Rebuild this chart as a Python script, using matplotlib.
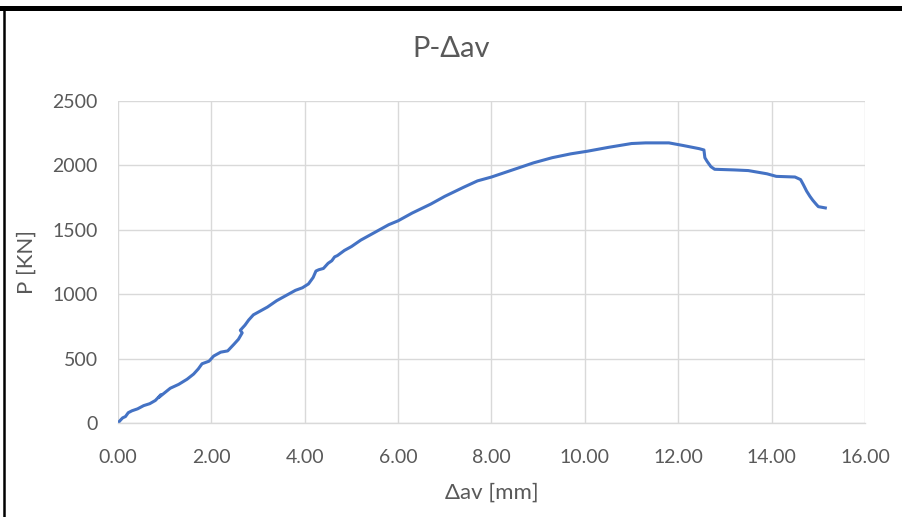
import matplotlib
matplotlib.use("Agg")
import matplotlib.pyplot as plt
from matplotlib.lines import Line2D

plt.rcParams['font.family'] = ['Lato', 'DejaVu Sans']

# displacement [mm] and load [KN]
d_av = [0.00, 0.06, 0.10, 0.16, 0.22, 0.30, 0.42, 0.55, 0.68, 0.80, 0.92, 0.88, 1.00,
        1.12, 1.30, 1.48, 1.62, 1.72, 1.80, 1.95, 2.05, 2.20, 2.35, 2.48, 2.58, 2.66,
        2.62, 2.72, 2.80, 2.90, 3.05, 3.20, 3.40, 3.60, 3.80, 3.95, 4.08, 4.18, 4.24,
        4.30, 4.40, 4.50, 4.58, 4.64, 4.70, 4.85, 5.00, 5.20, 5.40, 5.60, 5.80, 6.00,
        6.30, 6.70, 7.00, 7.40, 7.70, 8.00, 8.45, 8.90, 9.30, 9.70, 10.05, 10.50, 11.00,
        11.30, 11.80, 12.10, 12.45, 12.55, 12.57, 12.62, 12.70, 12.78, 13.20, 13.50,
        13.90, 14.10, 14.50, 14.62, 14.68, 14.75, 14.82, 14.88, 14.95, 15.00, 15.15]
p_kn = [0, 25, 40, 50, 80, 95, 110, 135, 150, 175, 220, 200, 235,
        270, 300, 340, 380, 420, 460, 480, 520, 550, 560, 610, 650, 700,
        720, 760, 800, 840, 870, 900, 950, 990, 1030, 1050, 1080, 1130, 1180,
        1190, 1200, 1240, 1260, 1290, 1300, 1340, 1370, 1420, 1460, 1500, 1540, 1570,
        1630, 1700, 1760, 1830, 1880, 1910, 1965, 2020, 2060, 2090, 2110, 2140, 2170,
        2175, 2175, 2155, 2130, 2120, 2060, 2030, 1990, 1970, 1965, 1960,
        1935, 1915, 1910, 1890, 1850, 1800, 1760, 1730, 1700, 1680, 1670]

x_ticks = [0, 2, 4, 6, 8, 10, 12, 14, 16]
y_ticks = [0, 500, 1000, 1500, 2000, 2500]

fig = plt.figure(figsize=(9.02, 5.17), dpi=100)
ax = fig.add_axes([0.1308, 0.1818, 0.8282, 0.6228])

ax.plot(d_av, p_kn, color='#4472C4', lw=2.2, solid_joinstyle='round')

ax.set_xlim(0, 16)
ax.set_ylim(0, 2500)
ax.set_xticks(x_ticks)
ax.set_yticks(y_ticks)
ax.set_xticklabels(['%.2f' % v for v in x_ticks])
ax.grid(True, color='#D9D9D9', lw=1)
ax.set_axisbelow(True)
for s in ['top', 'right', 'left']:
    ax.spines[s].set_visible(False)
ax.spines['bottom'].set_color('#D9D9D9')
ax.spines['bottom'].set_linewidth(1)
ax.tick_params(length=0, colors='#595959', labelsize=14)
ax.tick_params(axis='x', pad=19)
ax.tick_params(axis='y', pad=14.5)

ax.set_xlabel('Δav [mm]', color='#595959', fontsize=16, labelpad=12)
ax.set_ylabel('P [KN]', color='#595959', fontsize=16, labelpad=11.5)
fig.text(0.5, 0.905, 'P-Δav', ha='center', va='center', color='#595959', fontsize=21)

# black frame pieces (top and left edge)
fig.add_artist(Line2D([0.002, 1.0], [0.985, 0.985], color='black', lw=3.6,
                      transform=fig.transFigure))
fig.add_artist(Line2D([0.0045, 0.0045], [0.0, 0.985], color='black', lw=1.8,
                      transform=fig.transFigure))

fig.savefig('out.png', dpi=100, facecolor='white')
